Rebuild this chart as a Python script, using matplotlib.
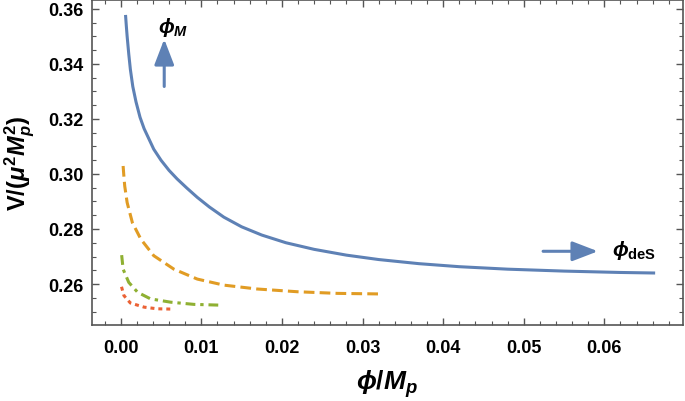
import numpy as np
import matplotlib
matplotlib.use("Agg")
import matplotlib.pyplot as plt
from matplotlib.ticker import MultipleLocator

plt.rcParams["font.family"] = ["Liberation Sans", "DejaVu Sans"]
plt.rcParams["font.weight"] = "bold"
plt.rcParams["mathtext.fontset"] = "custom"
plt.rcParams["mathtext.rm"] = "Liberation Sans:bold"
plt.rcParams["mathtext.it"] = "Liberation Sans:italic:bold"
plt.rcParams["mathtext.bf"] = "Liberation Sans:bold"
plt.rcParams["mathtext.fallback"] = "stixsans"

# values
blue_x = [0.0006, 0.0007, 0.0008, 0.0010, 0.0012, 0.0015, 0.0019, 0.0024, 0.0029,
          0.0041, 0.0050, 0.0060, 0.0070, 0.0082, 0.0095, 0.0110, 0.0128, 0.0150,
          0.0175, 0.0205, 0.0240, 0.0280, 0.0320, 0.0370, 0.0420, 0.0480, 0.0550,
          0.0620, 0.0663]
blue_y = [0.3578, 0.3537, 0.3500, 0.3436, 0.3380, 0.3318, 0.3262, 0.3206, 0.3165,
          0.3090, 0.3050, 0.3013, 0.2982, 0.2949, 0.2915, 0.2880, 0.2843, 0.2808,
          0.2778, 0.2750, 0.2726, 0.2705, 0.2689, 0.2674, 0.2663, 0.2654, 0.2647,
          0.2642, 0.2640]

orange_x = [0.0003, 0.0004, 0.0005, 0.0008, 0.00145, 0.0025, 0.0041, 0.0066, 0.0095,
            0.0128, 0.0169, 0.0219, 0.0269, 0.0320]
orange_y = [0.3029, 0.2990, 0.2956, 0.2896, 0.2823, 0.2763, 0.2703, 0.2654, 0.2618,
            0.2596, 0.2582, 0.2572, 0.2566, 0.2564]

green_x = [0.00012, 0.0003, 0.0010, 0.0021, 0.0037, 0.0062, 0.0091, 0.0126]
green_y = [0.2705, 0.2654, 0.2606, 0.2570, 0.2546, 0.2534, 0.2526, 0.2523]

red_x = [0.0001, 0.0004, 0.0012, 0.0029, 0.0045, 0.0062]
red_y = [0.2590, 0.2558, 0.2531, 0.2516, 0.2510, 0.2509]

blue = "#5E81B5"
orange = "#E19C24"
green = "#8FB032"
red = "#EB6235"

fig = plt.figure(figsize=(6.85, 4.02), dpi=100)
ax = fig.add_axes([0.1336, 0.189, 0.864, 0.809])

ax.plot(blue_x, blue_y, color=blue, lw=2.2, solid_capstyle="butt",
        solid_joinstyle="round")
ax.plot(orange_x, orange_y, color=orange, lw=2.2, dashes=(3.5, 1.7))
ax.plot(green_x, green_y, color=green, lw=2.2, dashes=(3.2, 1.6, 1.1, 1.6))
ax.plot(red_x, red_y, color=red, lw=2.2, dashes=(1.3, 1.3))

# annotations
arrow = dict(arrowstyle="-|>,head_length=1.3,head_width=0.5",
             color=blue, lw=2.2, mutation_scale=12, shrinkA=0, shrinkB=0)
ax.annotate("", xy=(0.0054, 0.3490), xytext=(0.0054, 0.3318), arrowprops=arrow)
ax.text(0.0046, 0.3535, r"$\phi_M$", fontsize=15, ha="left", va="center")
ax.annotate("", xy=(0.0592, 0.2719), xytext=(0.0524, 0.2719), arrowprops=arrow)
ax.text(0.0610, 0.2725, r"$\phi_{\mathrm{deS}}$", fontsize=15, ha="left", va="center")

ax.set_xlim(-0.00362, 0.0698)
ax.set_ylim(0.2451, 0.3633)
ax.xaxis.set_major_locator(MultipleLocator(0.01))
ax.xaxis.set_minor_locator(MultipleLocator(0.002))
ax.yaxis.set_major_locator(MultipleLocator(0.02))
ax.yaxis.set_minor_locator(MultipleLocator(0.005))
ax.xaxis.set_major_formatter(plt.FormatStrFormatter("%.2f"))
ax.yaxis.set_major_formatter(plt.FormatStrFormatter("%.2f"))

ax.tick_params(which="both", direction="in", top=True, right=True,
               colors="#555555", labelcolor="black", labelsize=13)
ax.tick_params(which="major", length=5, width=1)
ax.tick_params(which="minor", length=2.8, width=0.8)
ax.tick_params(axis="x", pad=10)
ax.tick_params(axis="y", pad=6)
for s in ax.spines.values():
    s.set_color("#555555")
    s.set_linewidth(1.2)

ax.set_xlabel(r"$\phi/M_p$", fontsize=19, labelpad=8)
ax.set_ylabel(r"$\mathrm{V/(}\mu^2 M_p^2\mathrm{)}$", fontsize=17, labelpad=8)

fig.savefig("out.png", dpi=100)
